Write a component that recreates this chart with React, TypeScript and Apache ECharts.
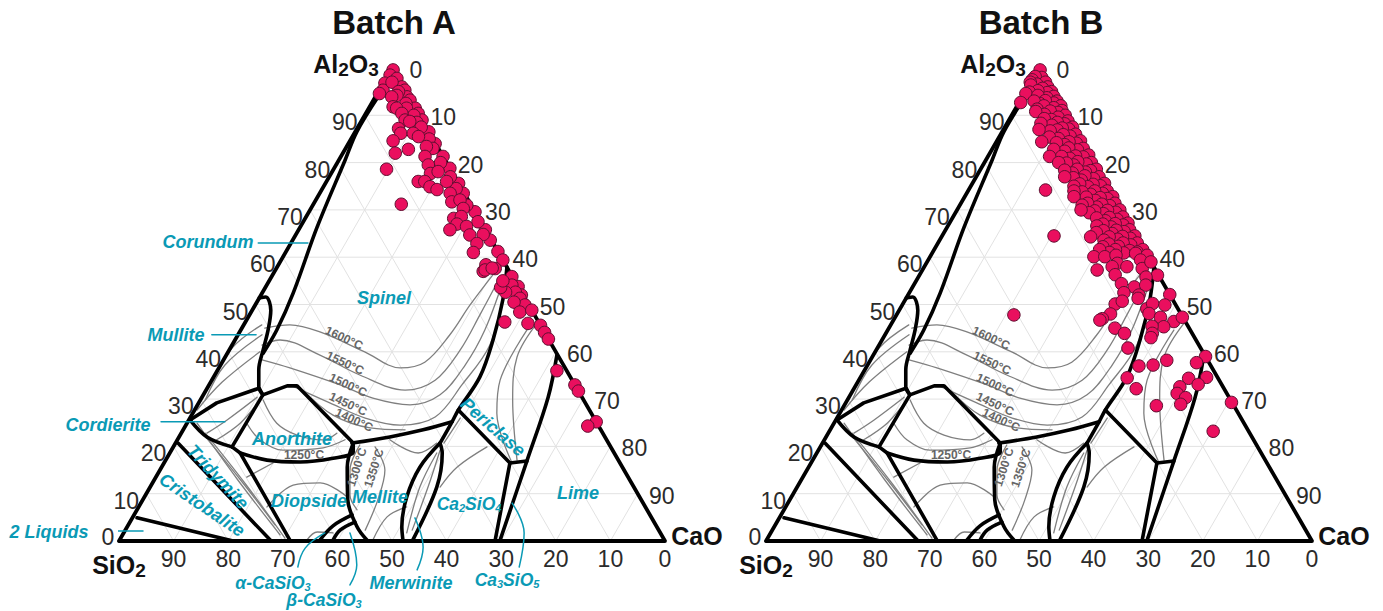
import React, { useEffect, useRef } from "react";
import * as echarts from "echarts";

// All compositions are [Al2O3 %, SiO2 %]; CaO % is the remainder.
const leftTicks = [0, 10, 20, 30, 40, 50, 60, 70, 80, 90];
const rightTicks = [0, 10, 20, 30, 40, 50, 60, 70, 80, 90];
const bottomTicks = [90, 80, 70, 60, 50, 40, 30, 20, 10, 0];
const gridLevels = [10, 20, 30, 40, 50, 60, 70, 80, 90];

const batchA = [
  [99.6,0],[98.5,1.1],[96.8,2.9],[95.3,4],[94.6,5],[97.8,.2],[96,.2],[95.3,0],[93.9,.3],[93.2,.1],[91.5,0],[90.4,0],[89,0],[86.5,0],[84,.1],[81.3,0],[78.8,0],[75.6,0],[73.5,.2],[69.6,0],[65.8,0],[63.6,.2],[61.2,0],[59.4,0],[55.9,.1],[53.8,0],[52,.3],
  [97,1.5],[95,1.3],[94.2,2],[92.5,1.2],[91.5,1.6],[90,1],[88.5,1.2],[87.5,.9],[85,.7],[83,1],[80,1.1],[77,.8],[74.5,1],[71,.8],[67.5,.5],[64.8,.9],
  [93.9,3.1],[91.8,3.9],[91.5,3.4],[90.4,3],[89,3.1],[88.7,2.4],[87.2,5.2],[86.2,5.3],[84.6,7.5],[82.8,5.6],[82,8.4],[78.6,11.7],[71.2,12.7],[86.2,3],[85.5,2.4],[83.4,2],[81.3,3.3],[79.5,3.6],[77.7,4.1],[78.1,2.5],[76,7.2],[76,6],[74.9,5.6],[74.3,4.6],[76,2],[73.5,2.6],[71.7,3.2],[72.1,1.5],[70.3,1.8],[68.2,4.6],[68.6,3],[67,4.6],[66.5,3.1],[65.8,6.5],[64.7,3.4],[62.9,3],[61,4.6],[58.4,3.6],[57,4.8],[57.6,2.3],
  [54.1,1],[52.6,1.1],[52.6,2.9],[51.3,.9],[49.9,.7],[53.6,3.3],[57.3,4.3],[57.7,2.8],[50.5,2.4],[55,2.2],
  [46.3,6.2],[48.4,2.4],[46,2.1],[48.8,0],[45.6,0],[44.1,0],[42.7,0],[36,1.8],[33,0],[31.7,0],[25.2,0],[24.3,2]
];

const batchB = [
  [99.6,0],[98,.5],[98.2,1.6],[97.5,2.5],[97,.3],[96.6,2.1],[97,3.1],[96.4,3.3],[96,.4],[95.7,1.5],[95,.2],[94.8,1.1],[95.2,2.6],[94.9,4.3],[94.6,5.1],[94,.3],[93.7,1.7],[94.2,3.1],[93,.2],[92.6,1],[93.1,2.3],[92.5,3.6],[93,4.4],[92.7,7],[92,0],[91.6,1.5],[92,3.1],[91.3,4.7],[91,.3],[90.6,1.2],[90.9,2.5],[90.2,3.9],[90.8,5.2],
  [90,.2],[89.6,1.7],[89.1,3.2],[89.3,4.4],[88.8,.3],[88.2,1.2],[88.5,2.4],[87.9,3.7],[88.3,5.5],[87.5,.1],[87.1,1],[87.3,2.1],[86.9,3.2],[86.7,4.6],[87,6.5],[86,.3],[85.6,1.5],[85.9,2.6],[85.1,3.9],[85.4,5.4],[84.6,.1],[84.1,1.1],[84.4,2.3],[83.8,3.4],[84.2,4.7],[84.4,7.3],[83,.4],[82.7,1.6],[83.1,3],[82.4,4.1],[82.8,5.9],[81.6,.1],[81.2,1.3],[81.4,2.6],[80.9,3.9],[81.3,5.2],[81.3,7.4],[80,.4],[79.7,1.5],[80.2,2.8],[79.5,3.9],[79.9,5],[80,6.4],
  [78.6,.2],[78.3,1.4],[78,2.5],[78.6,3.7],[77.8,5],[78.4,6.1],[77,.5],[76.6,1.7],[77.2,3],[76.3,4.1],[76.8,5.3],[77,6.8],[75.6,.2],[75.1,1.2],[75.4,2.4],[74.9,3.6],[75.5,4.8],[75,6.1],[74.2,11.7],[74,.5],[73.5,1.6],[74,2.8],[73.3,3.9],[73.8,5.2],[74,6.6],[72.8,.1],[72.4,1.3],[72.6,2.5],[72,3.7],[72.7,5],[72.8,7.2],[71.4,.4],[70.9,1.6],[71.2,2.9],[70.6,4.1],[71.4,5.4],[71,6.6],[70,.2],[69.5,1.2],[69.9,2.5],[69.2,3.6],[69.8,4.9],[69.4,6.1],[70,7.3],
  [68.5,.4],[68,1.7],[68.4,2.9],[67.7,4],[68.3,5.3],[67.2,.1],[66.8,1.2],[67.1,2.5],[66.4,3.6],[67,4.8],[66.6,6.1],[65.8,.5],[65.4,1.7],[65.7,3],[65,4.1],[65.6,5.4],[65.2,6.9],[64.5,.2],[64,1.3],[64.4,2.5],[63.8,3.7],[64.5,15],[64.3,5],[63.6,6.3],[64.3,8.4],[63,.5],[62.6,1.9],[63,3.1],[62.3,4.3],[62.8,5.8],[62.2,7.2],[61.6,.2],[61.1,1.5],[61.4,2.7],[60.9,4],[61.6,5.2],[61,6.6],[61.6,8.1],
  [60.1,9.9],[60.1,7.9],[60.4,5.7],[57.3,10.7],[58.7,6.3],[58,7.6],[56.3,7.9],[58,4.9],[60.8,1.9],[60.4,0],[59.4,1.7],[57.6,2.3],[59,0],[56.2,.2],[55.8,2.5],[54.4,7.7],[53.7,5.7],[54.1,3.4],[52.5,8.2],[52,5.7],[52.1,0],[49.9,2],[50.1,11],[50.7,9.4],[51.3,6.2],[49.1,5.7],[50.2,4.1],[48,12.9],[47,14.9],[46.7,15.5],[48.1,5.8],[47.3,4.1],[46.4,2.1],[47.3,.1],[45,13.6],[43.9,12.4],[45.3,4.5],[45.4,6.6],[43.9,7.3],[43,8],[40.8,13.3],[39,0],[37,13.2],[37.2,10.5],[38.2,7.5],[37.7,2.3],[34.5,16.6],[32.2,16.1],[28.6,14.2],[34.4,5.4],[34.6,2],[33.1,4.3],[32.6,7.9],[31.2,9.1],[30.3,8],[28.9,9.6],[29.3,.1],[23.2,6.5],[47.8,30.7]
];

const triangle = [[0,100],[0,0],[100,0],[0,100]];

const thickStraight = [
  [[4.9,94.25],[0,79.1]],
  [[20.7,78.85],[0.2,72.2]],
  [[30.9,58.2],[19.9,69.35]],
  [[27.7,24],[16.5,20.15],[16.9,16.85]],
  [[16.5,20.15],[0.2,31]],
  [[25.6,74.2],[29.2,67.5],[32.3,58.2],[30.9,58.2]],
  [[30.9,58.2],[32.8,52.8],[32.8,51],[20.7,46.75]],
  [[19.9,69.35],[18.6,68.5],[0.2,68.6]]
];

const thickCurved = [
  [[93.9,5.6],[86.5,13.2],[80.5,18.35],[66.4,30.5],[52.4,41.9],[44.6,48.8],[39.7,53.75]],
  [[51.4,48.6],[51.6,47.3],[48.8,47.8],[44.6,50.4],[40.4,53.4],[36.2,56.3],[32.6,58.1],[30.9,58.2]],
  [[25.6,74.2],[22,72.9],[19.9,69.35]],
  [[18.6,68.5],[17.1,64.35],[16.7,58.45],[17.5,52.05],[18.8,47.7],[20.7,46.75]],
  [[20.7,47],[22,39.4],[23.5,32.55],[25.2,26.4]],
  [[57.9,0],[51,4.2],[42.5,10.25],[34.7,16.55],[27.7,24],[25.2,26.4],[20.7,30.85]],
  [[20.7,30.85],[18.6,31.5],[11.4,36.1],[0.2,46.1]],
  [[20.7,30.85],[15.6,37.1],[9.3,42.65],[3,46.7],[0.2,47.9]],
  [[39.3,0.15],[30.4,6.2],[16.9,16.85],[0.2,30.1]],
  [[20.7,46.75],[15.6,50.4],[8.7,53.75],[3,54.9],[0.2,54.5]],
  [[0.2,63.1],[3.2,59.2],[5.5,54.55]],
  [[0.2,60.7],[2.3,58.35],[4,54.8]]
];

const thinCurved = [
  [[45,50.8],[45.7,45.85],[44.2,41.1],[40,35],[36.6,30.2],[37.8,25.1],[43.6,17.6],[49.9,10.75],[56.9,2.65]],
  [[41.4,53.1],[42.5,49.25],[39.3,43.55],[35.1,38.35],[31.9,31.65],[34,25.1],[40.4,17.3],[47.8,10],[55.8,2.3]],
  [[38.3,54.65],[36.6,50.4],[33,43],[30.2,38.4],[28.8,32.3],[30.9,25.75],[37.2,18],[44.6,10.7],[54.8,2.3]],
  [[33,52.2],[29.2,46.8],[26,41.9],[24.5,36.25],[26.2,29],[33,20.7],[41.4,11.4],[53,2.8]],
  [[31.9,50.35],[26.6,47.5],[23.9,42.05],[23.5,35.85]],
  [[21.4,39.7],[18.6,35.9],[20.7,31.45]],
  [[29.8,58.7],[24.9,58.65],[22.4,56.2],[21.4,51.9],[22.8,48.7]],
  [[24.9,64.15],[21.4,63.5],[19.2,60.4],[19.7,52.75],[21.4,47.9]],
  [[29.8,69.3],[37.2,62],[43.6,52]],
  [[27.7,71.85],[33.6,64.3],[40,54.2]],
  [[33,66.8],[40.8,58.9],[45.7,51]],
  [[22.8,72.5],[25.6,67.4],[30.4,59.5]],
  [[21.4,71.4],[24.9,65.35],[29.8,59.3]],
  [[24.9,73.25],[13,71.8],[1.3,69.85]],
  [[23.5,73.45],[13,71.3],[3.4,69.7]],
  [[22.8,72.8],[12,70.8],[0.6,69.3]],
  [[13.5,69.85],[16.5,63.55]],
  [[7.2,69.3],[11.8,62.2],[12.3,57],[9.3,53.55]],
  [[0.2,65.5],[1.9,62.75],[1.7,59.95]],
  [[20.3,45.75],[15,50.2],[9.7,52.85],[6.6,53.1]],
  [[19.9,43.15],[15,43.8],[8.7,48.25],[2.3,53.75]],
  [[0.2,53.4],[5.1,48.35],[7.2,43.7]],
  [[1.7,46.45],[11.4,39.2],[18.6,32.5]],
  [[2.3,45.15],[11.4,37.7],[19.2,31.6]],
  [[11.4,35.5],[15.6,30.3],[19.9,22.65]],
  [[16.5,19.75],[27,17.3],[34,13.2],[44.6,3]],
  [[17.1,18.55],[29.8,13],[38.9,7.65],[46.1,0.35]],
  [[20.7,30.15],[26,24.5]]
];

const leaders = [
  [[63,43],[63,33.9]],
  [[43.6,61.2],[43.6,53.1]],
  [[25.2,79.7],[25.2,68]],
  [[2.1,103.35],[2.1,94.55]],
  [[-5.5,70],[-1.5,66.65],[1.7,61.45]],
  [[-9.3,62.35],[-5.1,59],[1.7,56.85]],
  [[-6.1,48.45],[-1.3,44.95],[4.9,43.35]],
  [[-5.5,29.45],[1.7,24.95],[8,24]]
];

const FONT = '"Liberation Sans", Arial, sans-serif';
const TEAL = "#0a9ab5";
const toXY = (p: number[]) => [100 - p[1] - p[0] / 2, p[0]];

function polyline(points: number[][], idx: number, color: string, width: number, smooth: number, z: number) {
  return {
    type: "line", xAxisIndex: idx, yAxisIndex: idx, data: points.map(toXY), showSymbol: false, symbol: "none",
    smooth, clip: false, silent: true, z,
    lineStyle: { color, width, join: "round", cap: "round" },
  };
}

function tickSeries(idx: number, data: any[]) {
  return {
    type: "scatter", xAxisIndex: idx, yAxisIndex: idx, symbolSize: 0, silent: true, z: 6, clip: false,
    itemStyle: { opacity: 1 },
    data,
    label: {
      show: true, position: "inside", fontFamily: FONT, fontSize: 23, color: "#2b2b2b", opacity: 1,
      align: "center", verticalAlign: "middle", formatter: (p: any) => p.name,
    },
  };
}

function panelSeries(idx: number, points: number[][]) {
  const out: any[] = [];
  gridLevels.forEach((t) => {
    out.push(polyline([[t, 100 - t], [t, 0]], idx, "#e2e2e2", 1, 0, 1));
    out.push(polyline([[0, t], [100 - t, t]], idx, "#e2e2e2", 1, 0, 1));
    out.push(polyline([[0, 100 - t], [100 - t, 0]], idx, "#e2e2e2", 1, 0, 1));
  });
  thinCurved.forEach((l) => out.push(polyline(l, idx, "#7f7f7f", 1.3, 0.35, 2)));
  thickStraight.forEach((l) => out.push(polyline(l, idx, "#000", 3.6, 0, 3)));
  thickCurved.forEach((l) => out.push(polyline(l, idx, "#000", 3.6, 0.35, 3)));
  out.push(polyline(triangle, idx, "#000", 3.8, 0, 3));
  out.push(tickSeries(idx, leftTicks.map((t) => ({
    name: String(t), value: toXY([t, 100 - t]),
    label: { offset: t === 0 ? [-11, -4] : [-20, 7] },
  }))));
  out.push(tickSeries(idx, rightTicks.map((t) => ({
    name: String(t), value: toXY([100 - t, 0]), label: { offset: [24, 2] },
  }))));
  out.push(tickSeries(idx, bottomTicks.map((t) => ({
    name: String(t), value: toXY([0, t]), label: { offset: [0, 18] },
  }))));
  out.push({
    type: "scatter", xAxisIndex: idx, yAxisIndex: idx, data: points.map(toXY), symbolSize: 12.5, clip: false, silent: true, z: 5,
    itemStyle: { color: "#ea0f5e", borderColor: "#5e0f30", borderWidth: 1, opacity: 1 },
  });
  return out;
}

const formula = (size: number, sub: number, weight: string, line: number, subLine: number, style = "normal") => ({
  b: { fontFamily: FONT, fontSize: size, fontWeight: weight, fontStyle: style, lineHeight: line },
  s: { fontFamily: FONT, fontSize: sub, fontWeight: weight, fontStyle: style, lineHeight: subLine, verticalAlign: "bottom" },
});

function txt(text: string, x: number, y: number, font: string, fill: string, rot = 0, rich?: any) {
  return {
    type: "text", x, y, rotation: (rot * Math.PI) / 180, z: 10, silent: true,
    style: { text, x: 0, y: 0, font, fill, align: "center", verticalAlign: "middle", ...(rich ? { rich } : {}) },
  };
}

const teal = (size = 18) => `italic bold ${size}px ${FONT}`;
const gray = `bold 12px ${FONT}`;
const big = `bold 25px ${FONT}`;

function withColor(r: any, fill: string) {
  return { b: { ...r.b, fill, color: fill }, s: { ...r.s, fill, color: fill } };
}

function panelText(dx: number, title: string) {
  const oxRich = withColor(formula(25, 19, "bold", 30, 10), "#111");
  return [
    txt(title, 394 + dx, 22, `bold 33px ${FONT}`, "#111"),
    txt("{b|Al}{s|2}{b|O}{s|3}", 346 + dx, 64, big, "#111", 0, oxRich),
    txt("{b|SiO}{s|2}", 119 + dx, 565, big, "#111", 0, oxRich),
    txt("CaO", 697 + dx, 536, `bold 25px ${FONT}`, "#111"),
    txt("1600°C", 344 + dx, 338, gray, "#666", -25),
    txt("1550°C", 345 + dx, 363, gray, "#666", -25),
    txt("1500°C", 348 + dx, 385, gray, "#666", -25),
    txt("1450°C", 348 + dx, 404, gray, "#666", -25),
    txt("1400°C", 354 + dx, 420, gray, "#666", -25),
    txt("1250°C", 304 + dx, 455, gray, "#666", 0),
    txt("1300°C", 357 + dx, 467, gray, "#666", 72),
    txt("1350°C", 374 + dx, 468, gray, "#666", 72),
  ];
}

function phaseText() {
  const sub = withColor(formula(17.5, 11, "bold", 18, 10, "italic"), TEAL);
  return [
    txt("Corundum", 208, 242, teal(), TEAL),
    txt("Spinel", 384, 298, teal(), TEAL),
    txt("Mullite", 176, 335, teal(), TEAL),
    txt("Cordierite", 108, 425, teal(), TEAL),
    txt("Tridymite", 218, 477, teal(), TEAL, -47),
    txt("Cristobalite", 202, 505, teal(), TEAL, -34),
    txt("Anorthite", 292, 439, teal(), TEAL),
    txt("Diopside", 309, 501, teal(), TEAL),
    txt("Mellite", 380, 497, teal(), TEAL),
    txt("Periclase", 493, 427, teal(), TEAL, -41),
    txt("Lime", 578, 493, teal(), TEAL),
    txt("2 Liquids", 49, 532, teal(), TEAL),
    txt("{b|Ca}{s|2}{b|SiO}{s|4}", 469, 504, teal(), TEAL, 0, sub),
    txt("{b|α-CaSiO}{s|3}", 273, 583, teal(), TEAL, 0, sub),
    txt("{b|β-CaSiO}{s|3}", 324, 600, teal(), TEAL, 0, sub),
    txt("Merwinite", 411, 583, teal(), TEAL),
    txt("{b|Ca}{s|3}{b|SiO}{s|5}", 507, 580, teal(), TEAL, 0, sub),
  ];
}

export default function App() {
  const ref = useRef<HTMLDivElement>(null);
  useEffect(() => {
    document.body.style.margin = "0";
    const chart = echarts.init(ref.current!, undefined, { renderer: "svg" });
    const axis = { min: 0, max: 100, show: false, type: "value" };
    chart.setOption({
      animation: false,
      backgroundColor: "#fff",
      grid: [
        { left: 119, top: 68, width: 546, height: 473 },
        { left: 766, top: 68, width: 546, height: 473 },
      ],
      xAxis: [{ ...axis, gridIndex: 0 }, { ...axis, gridIndex: 1 }],
      yAxis: [{ ...axis, gridIndex: 0 }, { ...axis, gridIndex: 1 }],
      series: [
        ...panelSeries(0, batchA),
        ...panelSeries(1, batchB),
        ...leaders.map((l, i) => polyline(l, 0, TEAL, 1.5, i > 3 ? 0.4 : 0, 4)),
      ],
      graphic: [...panelText(0, "Batch A"), ...panelText(647, "Batch B"), ...phaseText()],
    });
    return () => chart.dispose();
  }, []);
  return <div ref={ref} style={{ width: 1383, height: 611 }} />;
}
